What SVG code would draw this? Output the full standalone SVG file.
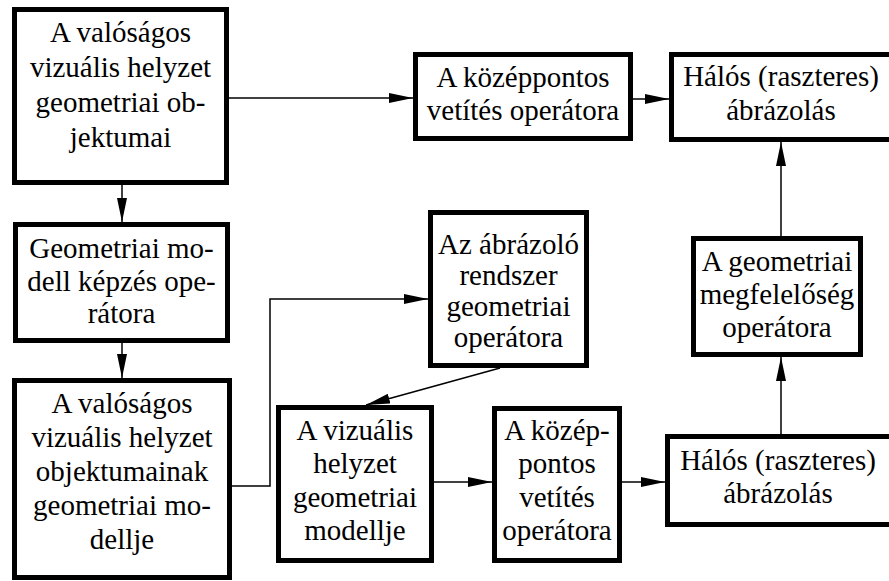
<svg xmlns="http://www.w3.org/2000/svg" width="889" height="581" viewBox="0 0 889 581">
<style>
.box{fill:#fff;stroke:#000;stroke-width:5}
text{font-family:'Liberation Serif','DejaVu Serif',serif;font-size:29px;fill:#000;text-anchor:middle}
.c{fill:none;stroke:#000;stroke-width:1.5}
</style>
<defs>
<marker id="ah" markerUnits="userSpaceOnUse" markerWidth="24" markerHeight="10" refX="24" refY="5" orient="auto" viewBox="0 0 24 10">
<path d="M0,0 L24,5 L0,10 z" fill="#000"/>
</marker>
</defs>
<rect width="889" height="581" fill="#fff"/>
<g id="connectors">
<path class="c" d="M229 98 H413" marker-end="url(#ah)"/>
<path class="c" d="M633 99 H669" marker-end="url(#ah)"/>
<path class="c" d="M122 185 V222" marker-end="url(#ah)"/>
<path class="c" d="M122 343 V378" marker-end="url(#ah)"/>
<path class="c" d="M232 486 H270 V299 H428" marker-end="url(#ah)"/>
<path class="c" d="M500 368 L366 405" marker-end="url(#ah)"/>
<path class="c" d="M434 482 H492" marker-end="url(#ah)"/>
<path class="c" d="M622 482 H665" marker-end="url(#ah)"/>
<path class="c" d="M781 434 V357" marker-end="url(#ah)"/>
<path class="c" d="M781 236 V142" marker-end="url(#ah)"/>
</g>
<g font-family="Liberation Serif, serif">
<g id="n1">
<rect class="box" x="14.5" y="9.5" width="212" height="173"/>
<text x="120.5" y="42">A valóságos</text>
<text x="120.5" y="77">vizuális helyzet</text>
<text x="120.5" y="112">geometriai ob-</text>
<text x="120.5" y="147">jektumai</text>
</g>
<g id="n2">
<rect class="box" x="415.5" y="54.5" width="215" height="84"/>
<text x="523" y="87">A középpontos</text>
<text x="523" y="120">vetítés operátora</text>
</g>
<g id="n3">
<rect class="box" x="671.5" y="54.5" width="222" height="85"/>
<text x="781" y="86">Hálós (raszteres)</text>
<text x="781" y="120">ábrázolás</text>
</g>
<g id="n4">
<rect class="box" x="15.5" y="224.5" width="212" height="116"/>
<text x="121.5" y="258">Geometriai mo-</text>
<text x="121.5" y="291">dell képzés ope-</text>
<text x="121.5" y="323">rátora</text>
</g>
<g id="n5">
<rect class="box" x="430.5" y="212.5" width="156" height="153"/>
<text x="508.5" y="254">Az ábrázoló</text>
<text x="508.5" y="285">rendszer</text>
<text x="508.5" y="316">geometriai</text>
<text x="508.5" y="347">operátora</text>
</g>
<g id="n6">
<rect class="box" x="693.5" y="238.5" width="167" height="116"/>
<text x="777" y="271">A geometriai</text>
<text x="777" y="304">megfelelőség</text>
<text x="777" y="337">operátora</text>
</g>
<g id="n7">
<rect class="box" x="14.5" y="380.5" width="215" height="197"/>
<text x="122" y="413">A valóságos</text>
<text x="122" y="447">vizuális helyzet</text>
<text x="122" y="481">objektumainak</text>
<text x="122" y="515">geometriai mo-</text>
<text x="122" y="549">dellje</text>
</g>
<g id="n8">
<rect class="box" x="278.5" y="407.5" width="153" height="153"/>
<text x="355" y="440">A vizuális</text>
<text x="355" y="473">helyzet</text>
<text x="355" y="507">geometriai</text>
<text x="355" y="540">modellje</text>
</g>
<g id="n9">
<rect class="box" x="494.5" y="408.5" width="125" height="152"/>
<text x="557" y="440">A közép-</text>
<text x="557" y="473">pontos</text>
<text x="557" y="507">vetítés</text>
<text x="557" y="540">operátora</text>
</g>
<g id="n10">
<rect class="box" x="667.5" y="436.5" width="226" height="88"/>
<text x="778" y="470">Hálós (raszteres)</text>
<text x="778" y="503">ábrázolás</text>
</g>
</g>
</svg>
